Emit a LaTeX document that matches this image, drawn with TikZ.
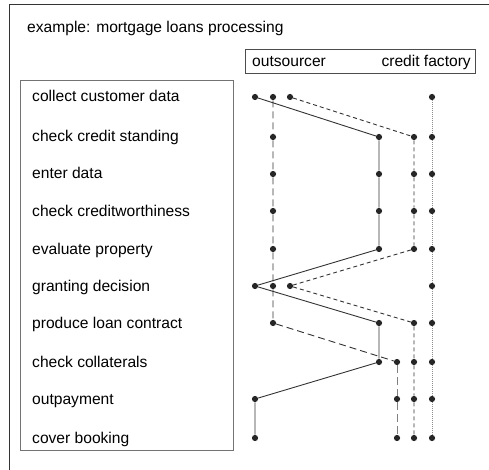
\documentclass[tikz,border=0pt]{standalone}
\usepackage{fontspec}
\setmainfont{Liberation Sans}
\begin{document}
\begin{tikzpicture}[x=1pt,y=-1pt,
  dot/.style={circle,fill=black!85,draw=none,inner sep=0pt,minimum size=6.2pt},
  lbl/.style={anchor=base west,inner sep=0pt,font=\fontsize{15.6}{18}\selectfont},
  boxframe/.style={draw=black!55,line width=0.9pt,inner sep=0pt},
  solidline/.style={draw=black!80,line width=0.9pt},
  longdash/.style={draw=black!80,line width=0.9pt,dash pattern=on 7pt off 4pt},
  longdashgray/.style={draw=black!50,line width=1pt,dash pattern=on 8pt off 4pt},
  shortdash/.style={draw=black!80,line width=0.9pt,dash pattern=on 4pt off 3pt},
  dotline/.style={draw=black!45,line width=0.8pt,dash pattern=on 1pt off 1pt}]
\useasboundingbox (0,0) rectangle (489,470);
% outer frame (cropped at right and bottom)
\draw[draw=black!80,line width=0.9pt] (9,472) -- (9,4) -- (491,4);
\node[lbl] (title) at (27,33) {example: mortgage loans processing};
% header box
\node[boxframe,draw=black!70,anchor=north west,minimum width=230pt,minimum height=24pt] (head) at (245,49) {};
\node[lbl] (outs) at (252,67) {outsourcer};
\node[lbl,anchor=base east] (cf) at (471,67) {credit factory};
% task box
\node[boxframe,anchor=north west,minimum width=213pt,minimum height=370pt] (tasks) at (20,80) {};
% row labels
\node[lbl] (t1) at (32,102) {collect customer data};
\node[lbl] (t2) at (32,142) {check credit standing};
\node[lbl] (t3) at (32,179) {enter data};
\node[lbl] (t4) at (32,216) {check creditworthiness};
\node[lbl] (t5) at (32,254) {evaluate property};
\node[lbl] (t6) at (32,291) {granting decision};
\node[lbl] (t7) at (32,328) {produce loan contract};
\node[lbl] (t8) at (32,367) {check collaterals};
\node[lbl] (t9) at (32,404) {outpayment};
\node[lbl] (t10) at (32,443) {cover booking};
% columns: a=255 b=273 c=290 d=379 e=397 f=414 g=432
\foreach \i/\y/\sx/\lx/\hx in {1/97/255/273/290, 2/137/379/273/414, 3/174/379/273/414,
  4/211/379/273/414, 5/249/379/273/414, 6/286/255/273/290, 7/323/379/273/414,
  8/362/379/397/414, 9/399/255/397/414, 10/438/255/397/414}{
  \node[dot] (s\i) at (\sx,\y) {};
  \node[dot] (l\i) at (\lx,\y) {};
  \node[dot] (h\i) at (\hx,\y) {};
  \node[dot] (p\i) at (432,\y) {};
}
% dotted line (credit factory)
\draw[dotline] (p1) -- (p2) -- (p3) -- (p4) -- (p5) -- (p6) -- (p7) -- (p8) -- (p9) -- (p10);
% short dashed line
\draw[shortdash] (h1) -- (h2) -- (h3) -- (h4) -- (h5) -- (h6) -- (h7) -- (h8) -- (h9) -- (h10);
% long dashed line
\draw[longdash] (l1) -- (l2) -- (l3) -- (l4) -- (l5) -- (l6) -- (l7) -- (l8);
\draw[longdashgray] (l8) -- (l9) -- (l10);
% solid line
\draw[solidline] (s1) -- (s2) -- (s3) -- (s4) -- (s5) -- (s6) -- (s7) -- (s8) -- (s9) -- (s10);
\end{tikzpicture}
\end{document}
